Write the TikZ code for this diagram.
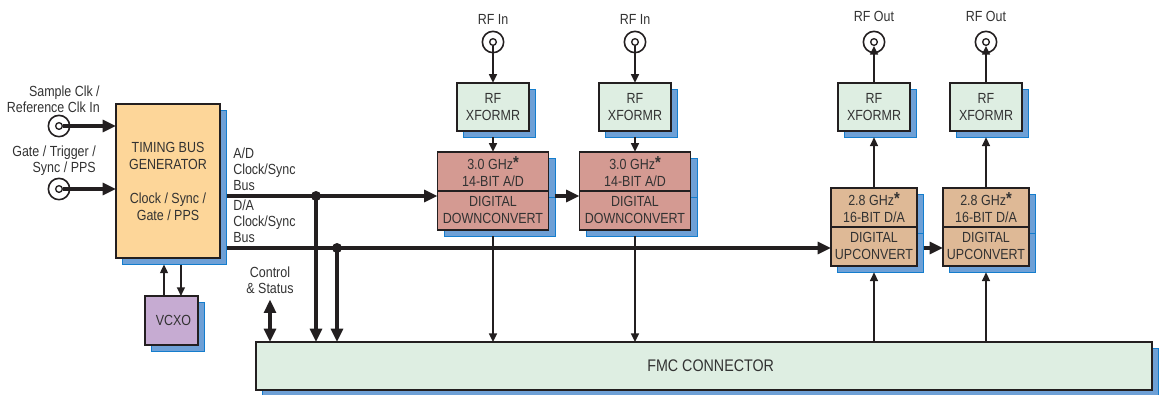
\documentclass[tikz,border=0pt]{standalone}
\usepackage{fontspec}
\setmainfont{Liberation Sans}[FakeStretch=0.85]
\usepackage{tikz}
\usetikzlibrary{arrows.meta, positioning, shadows}

\definecolor{tbgfill}{RGB}{253,214,153}
\definecolor{vcxofill}{RGB}{198,171,210}
\definecolor{adcfill}{RGB}{212,154,146}
\definecolor{dacfill}{RGB}{222,185,150}
\definecolor{palegreen}{RGB}{222,238,226}
\definecolor{shadowblue}{RGB}{110,160,214}
\definecolor{shadowedge}{RGB}{20,125,205}
\definecolor{wire}{RGB}{35,31,32}
\definecolor{txt}{RGB}{50,50,50}

\newcommand{\ghzstar}{\raisebox{1pt}{\fontsize{13}{13}\selectfont\bfseries *}}

\begin{document}
\begin{tikzpicture}[x=0.75pt, y=-0.75pt,
    box/.style={draw=wire, line width=1.3pt, inner sep=0pt, outer sep=0pt, align=center, text=txt,
      font=\fontsize{11}{12.75}\selectfont,
      copy shadow={shadow xshift=4.9pt, shadow yshift=-4.9pt, opacity=1, fill=shadowblue, draw=shadowedge, line width=0.7pt}},
    xfmr/.style={box, fill=palegreen, minimum width=54pt, minimum height=36pt},
    adcpart/.style={box, fill=adcfill, minimum width=83.25pt, minimum height=29.25pt},
    dacpart/.style={box, fill=dacfill, minimum width=64.5pt, minimum height=29.25pt},
    jack/.style={circle, draw=wire, line width=1.2pt, fill=white, minimum size=16pt, inner sep=0pt},
    jackhole/.style={circle, draw=wire, line width=1pt, fill=white, minimum size=5pt, inner sep=0pt},
    tap/.style={circle, fill=wire, minimum size=7.5pt, inner sep=0pt},
    lbl/.style={text=txt, font=\fontsize{11}{12}\selectfont, inner sep=0pt},
    bus/.style={draw=wire, line width=2.3pt, -{Triangle[length=10pt, width=9pt]}},
    sig/.style={draw=wire, line width=1.1pt, -{Triangle[length=6.5pt, width=6pt]}},
  ]
  \useasboundingbox (0,0) rectangle (1160,394);

  % Timing bus generator and VCXO
  \node[box, fill=tbgfill, minimum width=78pt, minimum height=115.5pt] (tbg) at (168,181) {TIMING BUS\\GENERATOR\\[12.75pt]Clock / Sync /\\Gate / PPS};
  \node[box, fill=vcxofill, minimum width=39.75pt, minimum height=36.75pt, below=28.5pt of tbg, xshift=2.6pt] (vcxo) {\hspace{3pt}VCXO};

  % Input jacks
  \node[jack] (clkin) at (59,126) {};
  \node[jackhole] (clkinhole) at (clkin) {};
  \node[jack] (gatein) at (59,189) {};
  \node[jackhole] (gateinhole) at (gatein) {};
  \node[lbl, align=right, anchor=south east] (clklbl) at ([xshift=30.75pt, yshift=1pt]clkin.north) {Sample Clk /\\Reference Clk In};
  \node[lbl, align=right, anchor=south east] (gatelbl) at ([xshift=27.75pt, yshift=1pt]gatein.north) {Gate / Trigger /\\Sync / PPS};

  % A/D channels
  \node[jack] (rfin1) at (493,42) {};
  \node[jackhole] (rfin1hole) at (rfin1) {};
  \node[lbl, above=4.5pt of rfin1] (rfin1lbl) {RF In};
  \node[xfmr, below=22pt of rfin1] (xfin1) {RF\\XFORMR};
  \node[adcpart, below=15.75pt of xfin1] (adc1top) {3.0 GHz\ghzstar\\14-BIT A/D};
  \node[adcpart, below=0pt of adc1top] (adc1bot) {DIGITAL\\DOWNCONVERT};

  \node[jack] (rfin2) at (635,42) {};
  \node[jackhole] (rfin2hole) at (rfin2) {};
  \node[lbl, above=4.5pt of rfin2] (rfin2lbl) {RF In};
  \node[xfmr, below=22pt of rfin2] (xfin2) {RF\\XFORMR};
  \node[adcpart, below=15.75pt of xfin2] (adc2top) {3.0 GHz\ghzstar\\14-BIT A/D};
  \node[adcpart, below=0pt of adc2top] (adc2bot) {DIGITAL\\DOWNCONVERT};

  % D/A channels
  \node[jack] (rfout1) at (874,42) {};
  \node[jackhole] (rfout1hole) at (rfout1) {};
  \node[lbl, above=6.5pt of rfout1] (rfout1lbl) {RF Out};
  \node[xfmr, below=22pt of rfout1] (xfout1) {RF\\XFORMR};
  \node[dacpart, below=42.75pt of xfout1] (dac1top) {2.8 GHz\ghzstar\\16-BIT D/A};
  \node[dacpart, below=0pt of dac1top] (dac1bot) {DIGITAL\\UPCONVERT};

  \node[jack] (rfout2) at (986,42) {};
  \node[jackhole] (rfout2hole) at (rfout2) {};
  \node[lbl, above=6.5pt of rfout2] (rfout2lbl) {RF Out};
  \node[xfmr, below=22pt of rfout2] (xfout2) {RF\\XFORMR};
  \node[dacpart, below=42.75pt of xfout2] (dac2top) {2.8 GHz\ghzstar\\16-BIT D/A};
  \node[dacpart, below=0pt of dac2top] (dac2bot) {DIGITAL\\UPCONVERT};

  % FMC connector
  \node[box, fill=palegreen, minimum width=672pt, minimum height=36pt, font=\fontsize{12.6}{14}\selectfont] (fmc) at (704,366) {\hspace{10pt}FMC CONNECTOR};

  % Buses
  \node[tap] (adtap) at (316,196) {};
  \node[tap] (datap) at (337,248) {};
  \node[lbl, align=left, anchor=south west] (adlbl) at ([xshift=9.75pt, yshift=3.5pt]tbg.east |- adtap) {A/D\\Clock/Sync\\Bus};
  \node[lbl, align=left, anchor=south west] (dalbl) at ([xshift=9.75pt, yshift=3.5pt]tbg.east |- datap) {D/A\\Clock/Sync\\Bus};
  \node[lbl, align=center] (ctrllbl) at (270,280) {Control\\\& Status};

  % Paths
  \draw[bus] (clkinhole.east) -- (clkinhole -| tbg.west);
  \draw[bus] (gateinhole.east) -- (gateinhole -| tbg.west);
  \draw[sig] ([xshift=-5.6pt]vcxo.north) -- ([xshift=-5.6pt, yshift=-4.9pt]vcxo.north |- tbg.south);
  \draw[sig] ([xshift=7.1pt, yshift=-4.9pt]vcxo.north |- tbg.south) -- ([xshift=7.1pt]vcxo.north);

  \draw[bus] ([xshift=4.9pt]tbg.east |- adtap) -- (adtap -| adc1bot.west);
  \draw[bus] ([xshift=4.9pt]tbg.east |- datap) -- (datap -| dac1bot.west);
  \draw[bus] (adtap.center) -- (adtap |- fmc.north);
  \draw[bus] (datap.center) -- (datap |- fmc.north);
  \draw[bus, {Triangle[length=10pt, width=9pt]}-{Triangle[length=10pt, width=9pt]}] ([yshift=-4.5pt]ctrllbl.south) -- (ctrllbl.south |- fmc.north);

  \draw[sig] (rfin1hole.south) -- (xfin1.north);
  \draw[sig] ([yshift=-4.9pt]xfin1.south) -- (adc1top.north);
  \draw[sig] ([yshift=-4.9pt]adc1bot.south) -- (adc1bot.south |- fmc.north);
  \draw[bus] ([xshift=4.9pt]adc1bot.east |- adtap) -- (adc2bot.west |- adtap);
  \draw[sig] (rfin2hole.south) -- (xfin2.north);
  \draw[sig] ([yshift=-4.9pt]xfin2.south) -- (adc2top.north);
  \draw[sig] ([yshift=-4.9pt]adc2bot.south) -- (adc2bot.south |- fmc.north);

  \draw[sig] (fmc.north -| dac1bot) -- ([yshift=-4.9pt]dac1bot.south);
  \draw[sig] (dac1top.north) -- ([yshift=-4.9pt]xfout1.south);
  \draw[sig] (xfout1.north) -- (rfout1hole.south);
  \draw[bus] ([xshift=4.9pt]dac1bot.east |- datap) -- (dac2bot.west |- datap);
  \draw[sig] (fmc.north -| dac2bot) -- ([yshift=-4.9pt]dac2bot.south);
  \draw[sig] (dac2top.north) -- ([yshift=-4.9pt]xfout2.south);
  \draw[sig] (xfout2.north) -- (rfout2hole.south);
\end{tikzpicture}
\end{document}
